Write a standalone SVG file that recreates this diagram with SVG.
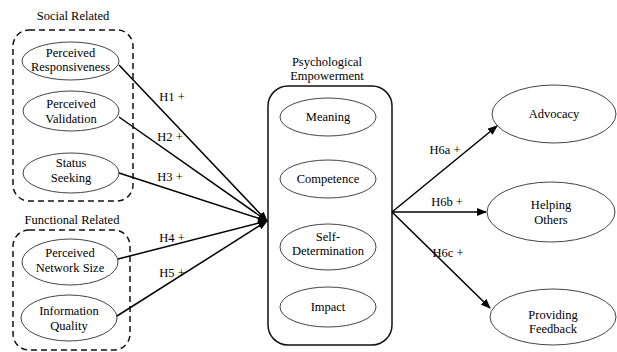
<svg xmlns="http://www.w3.org/2000/svg" width="617" height="352" viewBox="0 0 617 352" font-family="Liberation Serif, Times New Roman, serif" font-size="12.5" text-anchor="middle">
<defs>
<style>
.el{fill:#fff;stroke:#444;stroke-width:1}
.dash{fill:none;stroke:#111;stroke-width:1.5;stroke-dasharray:6,4}
.box{fill:#fff;stroke:#111;stroke-width:1.5}
.conn{fill:none;stroke:#000;stroke-width:1.5;marker-end:url(#ah)}
</style>
<marker id="ah" markerWidth="10" markerHeight="8" refX="9" refY="4" orient="auto" markerUnits="userSpaceOnUse">
<path d="M0,0 L10,4 L0,8 Z" fill="#000"/>
</marker>
</defs>
<rect width="617" height="352" fill="#fff"/>

<g id="social-group">
<text x="73" y="20">Social Related</text>
<rect class="dash" x="13" y="30" width="120" height="171" rx="16"/>
</g>
<g id="functional-group">
<text x="72" y="224">Functional Related</text>
<rect class="dash" x="13" y="230" width="117" height="120" rx="16"/>
</g>

<g id="perceived-responsiveness">
<ellipse class="el" cx="70.5" cy="61" rx="48.5" ry="19"/>
<text x="70.5" y="57">Perceived</text>
<text x="70.5" y="71">Responsiveness</text>
</g>
<g id="perceived-validation">
<ellipse class="el" cx="71" cy="111" rx="48" ry="20"/>
<text x="71" y="108">Perceived</text>
<text x="71" y="123">Validation</text>
</g>
<g id="status-seeking">
<ellipse class="el" cx="71" cy="173" rx="48" ry="20"/>
<text x="71" y="167">Status</text>
<text x="71" y="182">Seeking</text>
</g>
<g id="perceived-network-size">
<ellipse class="el" cx="70" cy="262" rx="48" ry="23"/>
<text x="70" y="257">Perceived</text>
<text x="70" y="272">Network Size</text>
</g>
<g id="information-quality">
<ellipse class="el" cx="69" cy="318" rx="48" ry="23"/>
<text x="69" y="315">Information</text>
<text x="69" y="330">Quality</text>
</g>

<g id="psychological-empowerment">
<text x="327" y="66">Psychological</text>
<text x="327" y="80">Empowerment</text>
<rect class="box" x="268" y="86" width="124" height="259" rx="20"/>
</g>
<g id="meaning">
<ellipse class="el" cx="328" cy="117" rx="48" ry="19"/>
<text x="328" y="121">Meaning</text>
</g>
<g id="competence">
<ellipse class="el" cx="328" cy="179" rx="48" ry="19"/>
<text x="328" y="183">Competence</text>
</g>
<g id="self-determination">
<ellipse class="el" cx="328" cy="247" rx="48" ry="23"/>
<text x="328" y="241">Self-</text>
<text x="328" y="255">Determination</text>
</g>
<g id="impact">
<ellipse class="el" cx="328" cy="307" rx="48" ry="20"/>
<text x="328" y="311">Impact</text>
</g>

<g id="advocacy">
<ellipse class="el" cx="554" cy="114" rx="62" ry="29"/>
<text x="554" y="118">Advocacy</text>
</g>
<g id="helping-others">
<ellipse class="el" cx="551" cy="212" rx="64" ry="30"/>
<text x="551" y="209">Helping</text>
<text x="551" y="224">Others</text>
</g>
<g id="providing-feedback">
<ellipse class="el" cx="553" cy="317" rx="63" ry="28"/>
<text x="553" y="319">Providing</text>
<text x="553" y="333">Feedback</text>
</g>

<g id="connectors">
<line class="conn" x1="119" y1="65" x2="267" y2="221"/>
<line class="conn" x1="119" y1="117" x2="267" y2="221"/>
<line class="conn" x1="119" y1="173" x2="267" y2="221"/>
<line class="conn" x1="118" y1="259" x2="267" y2="221"/>
<line class="conn" x1="117" y1="316" x2="267" y2="221"/>
<line class="conn" x1="392" y1="212" x2="497" y2="126"/>
<line class="conn" x1="392" y1="212" x2="486" y2="212"/>
<line class="conn" x1="392" y1="212" x2="490" y2="308"/>
</g>

<g id="labels">
<text x="172" y="101">H1 +</text>
<text x="170" y="141">H2 +</text>
<text x="170" y="181">H3 +</text>
<text x="172" y="242">H4 +</text>
<text x="172" y="277">H5 +</text>
<text x="445" y="154">H6a +</text>
<text x="447" y="206">H6b +</text>
<text x="448" y="257">H6c +</text>
</g>
</svg>
